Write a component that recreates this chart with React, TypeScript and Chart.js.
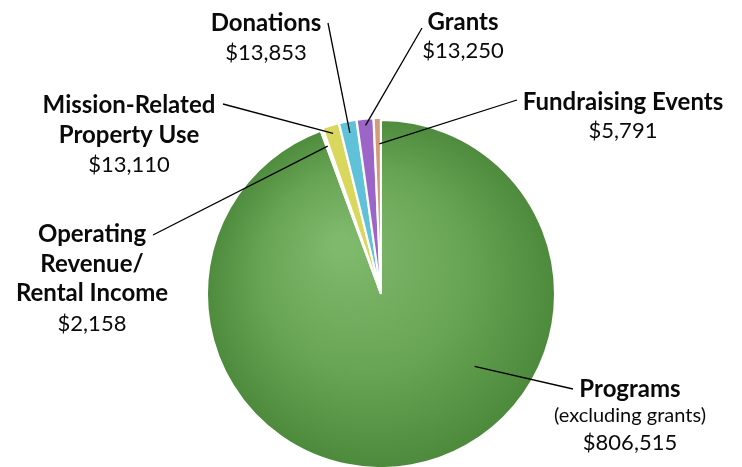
import React, { useEffect, useRef } from "react";
import { Chart, registerables } from "chart.js";
Chart.register(...registerables);

const categories = [
  "Programs",
  "Operating Revenue/Rental Income",
  "Mission-Related Property Use",
  "Donations",
  "Grants",
  "Fundraising Events",
];
const values = [806515, 2158, 13110, 13853, 13250, 5791];
const sliceColors = ["#5b9a48", "#f3f1cc", "#dad75e", "#5fc2d9", "#9c66c8", "#d49a7c"];
const titleLines = [
  ["Programs"],
  ["Operating", "Revenue/", "Rental Income"],
  ["Mission-Related", "Property Use"],
  ["Donations"],
  ["Grants"],
  ["Fundraising Events"],
];
const noteLines = [["(excluding grants)"], [], [], [], [], []];

// label layout (text placement and leader-line geometry)
const labelLayout = [
  { cx: 630, y: 397, step: 27, lineFrom: [573, 389], angleFrac: 0.376, radiusFrac: 0.68 },
  { cx: 92, y: 242, step: 29.5, lineFrom: [153, 235], angleFrac: 0.5, radiusFrac: 0.88 },
  { cx: 129, y: 113, step: 29.5, lineFrom: [223, 104], angleFrac: 0.5, radiusFrac: 0.94 },
  { cx: 266, y: 31, step: 29, lineFrom: [328, 23], angleFrac: 0.5, radiusFrac: 0.92 },
  { cx: 463, y: 30, step: 28, lineFrom: [422, 28], angleFrac: 0.5, radiusFrac: 0.95 },
  { cx: 623, y: 110, step: 28, lineFrom: [517, 100], angleFrac: 0.75, radiusFrac: 0.84 },
];

const fmt = (v: number) => "$" + v.toLocaleString("en-US");

const labelPlugin = {
  id: "calloutLabels",
  afterDraw(chart: any) {
    const ctx = chart.ctx as CanvasRenderingContext2D;
    const meta = chart.getDatasetMeta(0);
    ctx.save();
    ctx.strokeStyle = "#000";
    ctx.lineWidth = 1.3;
    meta.data.forEach((arc: any, i: number) => {
      const L = labelLayout[i];
      const { x, y, startAngle, endAngle, outerRadius } = arc.getProps(
        ["x", "y", "startAngle", "endAngle", "outerRadius"],
        true
      );
      const a = startAngle + (endAngle - startAngle) * L.angleFrac;
      const off = arc.options.offset || 0;
      const ax = x + Math.cos(a) * (outerRadius * L.radiusFrac + off);
      const ay = y + Math.sin(a) * (outerRadius * L.radiusFrac + off);
      ctx.beginPath();
      ctx.moveTo(L.lineFrom[0], L.lineFrom[1]);
      ctx.lineTo(ax, ay);
      ctx.stroke();
    });
    ctx.fillStyle = "#0a0a0a";
    ctx.textAlign = "center";
    ctx.textBaseline = "alphabetic";
    meta.data.forEach((_: any, i: number) => {
      const L = labelLayout[i];
      let yy = L.y;
      ctx.font = "bold 24px Lato";
      titleLines[i].forEach((t) => {
        ctx.fillText(t, L.cx, yy);
        yy += L.step;
      });
      yy -= L.step;
      noteLines[i].forEach((t) => {
        ctx.font = "20px Lato";
        yy += 25;
        ctx.fillText(t, L.cx, yy);
      });
      ctx.font = "22px Lato";
      yy += noteLines[i].length ? 28 : L.step;
      ctx.fillText(fmt(values[i]), L.cx, yy);
    });
    ctx.restore();
  },
};

export default function App() {
  const ref = useRef<HTMLCanvasElement>(null);
  useEffect(() => {
    if (!ref.current) return;
    const chart = new Chart(ref.current, {
      type: "pie",
      data: {
        labels: categories,
        datasets: [
          {
            data: values,
            backgroundColor: (c: any) => {
              const i = c.dataIndex;
              if (i !== 0) return sliceColors[i];
              const area = c.chart.chartArea;
              if (!area) return sliceColors[0];
              const cx = (area.left + area.right) / 2;
              const cy = (area.top + area.bottom) / 2;
              const g = c.chart.ctx.createRadialGradient(cx - 40, cy - 50, 10, cx, cy, 180);
              g.addColorStop(0, "#7fb96c");
              g.addColorStop(0.55, "#67a453");
              g.addColorStop(1, "#4b883a");
              return g;
            },
            borderColor: "#ffffff",
            borderWidth: 2,
            hoverBorderWidth: 2,
            offset: [0, 4, 4, 4, 4, 4],
            hoverOffset: 0,
          },
        ],
      },
      options: {
        responsive: false,
        animation: false,
        devicePixelRatio: 1,
        radius: 174,
        layout: { padding: { left: 20, right: 0, top: 121, bottom: 0 } },
        plugins: {
          legend: { display: false },
          tooltip: { enabled: false },
        },
        events: [],
      } as any,
      plugins: [labelPlugin],
    });
    return () => chart.destroy();
  }, []);
  return (
    <div style={{ position: "absolute", left: 0, top: 0, width: 742, height: 467, background: "#fff" }}>
      <canvas ref={ref} width={742} height={467} style={{ width: 742, height: 467 }} />
    </div>
  );
}
